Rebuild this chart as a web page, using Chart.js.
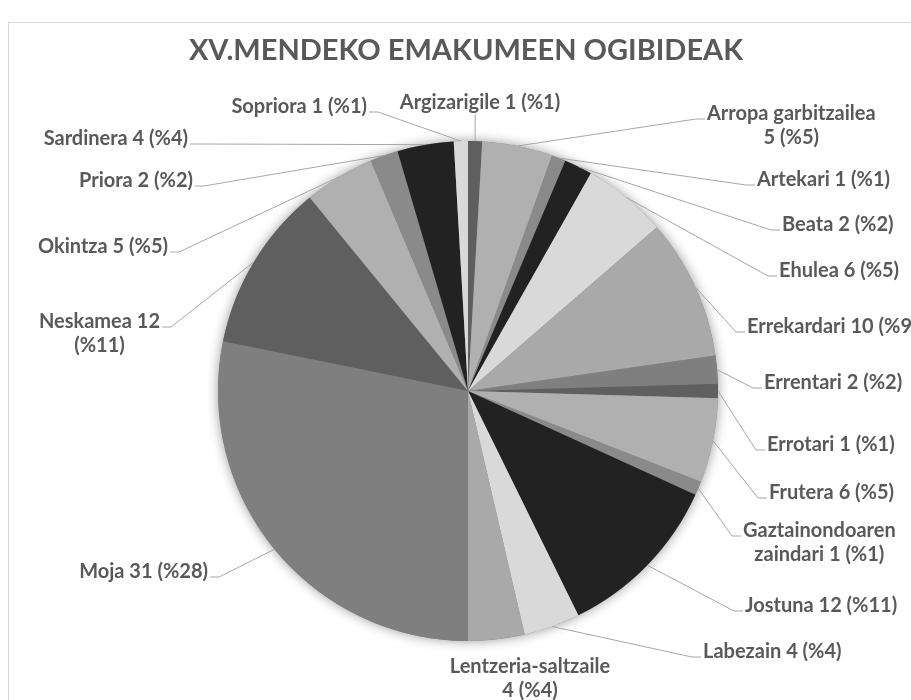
<!DOCTYPE html>
<html>
<head>
<meta charset="utf-8">
<script src="https://cdn.jsdelivr.net/npm/chart.js@4.4.0/dist/chart.umd.min.js"></script>
<style>
  html, body { margin: 0; padding: 0; background: #fff; overflow: hidden; }
  #frame { position: absolute; left: 8px; top: 22px; width: 1000px; height: 1000px; border: 1px solid #d9d9d9; }
  #chart { position: absolute; left: 0; top: 0; }
</style>
</head>
<body>
<div id="frame"></div>
<canvas id="chart" width="911" height="700"></canvas>
<script>
// Data
const TITLE = "XV.MENDEKO EMAKUMEEN OGIBIDEAK";

const categories = [
  "Argizarigile", "Arropa garbitzailea", "Artekari", "Beata", "Ehulea",
  "Errekardari", "Errentari", "Errotari", "Frutera", "Gaztainondoaren zaindari",
  "Jostuna", "Labezain", "Lentzeria-saltzaile", "Moja", "Neskamea",
  "Okintza", "Priora", "Sardinera", "Sopriora",
];

const counts = [1, 5, 1, 2, 6, 10, 2, 1, 6, 1, 12, 4, 4, 31, 12, 5, 2, 4, 1];

// Grey cycle used by the slices
const palette = ["#5f5f5f", "#b0b0b0", "#8a8a8a", "#222222", "#d9d9d9", "#a9a9a9", "#7f7f7f"];

// Label placement, relative to the pie centre (side: r = text right of anchor, l = left, t = above, b = below)
const labelSpots = [
  { side: "t", dx: 12, dy: -288 },
  { side: "r", dx: 239, dy: -277, wrap: 175 },
  { side: "r", dx: 289, dy: -211 },
  { side: "r", dx: 314, dy: -166 },
  { side: "r", dx: 311, dy: -120 },
  { side: "r", dx: 279, dy: -64 },
  { side: "r", dx: 296, dy: -8 },
  { side: "r", dx: 299, dy: 54 },
  { side: "r", dx: 301, dy: 102 },
  { side: "r", dx: 275, dy: 140, wrap: 160 },
  { side: "r", dx: 277, dy: 215 },
  { side: "r", dx: 235, dy: 261 },
  { side: "b", dx: 62, dy: 276, wrap: 165 },
  { side: "l", dx: -260, dy: 181 },
  { side: "l", dx: -308, dy: -69, wrap: 125 },
  { side: "l", dx: -300, dy: -144 },
  { side: "l", dx: -275, dy: -210 },
  { side: "l", dx: -280, dy: -252 },
  { side: "l", dx: -101, dy: -284 },
];

const TEXT_COLOR = "#595959";
const LABEL_FONT = "bold 20px Lato";
const LINE_H = 24;

function wrapText(ctx, text, maxW) {
  const words = text.split(" ");
  const lines = [];
  let cur = "";
  words.forEach((w) => {
    const test = cur ? cur + " " + w : w;
    if (cur && ctx.measureText(test).width > maxW) {
      lines.push(cur);
      cur = w;
    } else cur = test;
  });
  if (cur) lines.push(cur);
  return lines;
}

// Soft shadow behind the pie
const pieShadow = {
  id: "pieShadow",
  beforeDatasetsDraw(chart) {
    const arc = chart.getDatasetMeta(0).data[0];
    if (!arc) return;
    const p = arc.getProps(["x", "y", "outerRadius"], true);
    const ctx = chart.ctx;
    ctx.save();
    ctx.shadowColor = "rgba(0,0,0,0.4)";
    ctx.shadowBlur = 12;
    ctx.fillStyle = "#888";
    ctx.beginPath();
    ctx.arc(p.x, p.y, p.outerRadius, 0, Math.PI * 2);
    ctx.fill();
    ctx.restore();
  },
};

// Data labels with leader lines
const sliceLabels = {
  id: "sliceLabels",
  afterDatasetsDraw(chart) {
    const ctx = chart.ctx;
    const arcs = chart.getDatasetMeta(0).data;
    const total = counts.reduce((a, b) => a + b, 0);
    ctx.save();
    ctx.font = LABEL_FONT;
    arcs.forEach((el, i) => {
      const a = el.getProps(["x", "y", "startAngle", "endAngle", "outerRadius"], true);
      const spot = labelSpots[i];
      const pct = Math.round((counts[i] / total) * 100);
      const text = `${categories[i]} ${counts[i]} (%${pct})`;
      const lines = spot.wrap ? wrapText(ctx, text, spot.wrap) : [text];
      const blockW = Math.max(...lines.map((l) => ctx.measureText(l).width));
      const x = a.x + spot.dx;
      const y = a.y + spot.dy;
      let cx = x;
      if (spot.side === "r") cx = x + blockW / 2;
      else if (spot.side === "l") cx = x - blockW / 2;

      // leader line
      const mid = (a.startAngle + a.endAngle) / 2;
      const ex = a.x + Math.cos(mid) * a.outerRadius;
      const ey = a.y + Math.sin(mid) * a.outerRadius;
      ctx.strokeStyle = "#a6a6a6";
      ctx.lineWidth = 1;
      ctx.beginPath();
      if (spot.side === "r") {
        ctx.moveTo(ex, ey);
        ctx.lineTo(x - 11, y + 5);
        ctx.lineTo(x - 2, y + 5);
      } else if (spot.side === "l") {
        ctx.moveTo(ex, ey);
        ctx.lineTo(x + 11, y + 5);
        ctx.lineTo(x + 2, y + 5);
      } else if (spot.side === "t") {
        ctx.moveTo(ex, y + 11);
        ctx.lineTo(ex, ey);
      }
      ctx.stroke();

      ctx.fillStyle = TEXT_COLOR;
      ctx.textAlign = "center";
      ctx.textBaseline = "middle";
      lines.forEach((l, k) => ctx.fillText(l, cx, y + k * LINE_H));
    });
    ctx.restore();
  },
};

// Title
const chartTitle = {
  id: "chartTitle",
  afterDraw(chart) {
    const ctx = chart.ctx;
    ctx.save();
    ctx.font = "bold 29px Lato";
    ctx.fillStyle = TEXT_COLOR;
    ctx.textAlign = "center";
    ctx.textBaseline = "middle";
    ctx.fillText(TITLE, 466, 51);
    ctx.restore();
  },
};

new Chart(document.getElementById("chart"), {
  type: "pie",
  data: {
    labels: categories,
    datasets: [{
      data: counts,
      backgroundColor: categories.map((_, i) => palette[i % palette.length]),
      borderWidth: 0,
    }],
  },
  options: {
    responsive: false,
    animation: false,
    events: [],
    layout: { padding: { top: 141, bottom: 59, left: 100, right: 75 } },
    plugins: {
      legend: { display: false },
      tooltip: { enabled: false },
      title: { display: false },
    },
  },
  plugins: [pieShadow, sliceLabels, chartTitle],
});
</script>
</body>
</html>
